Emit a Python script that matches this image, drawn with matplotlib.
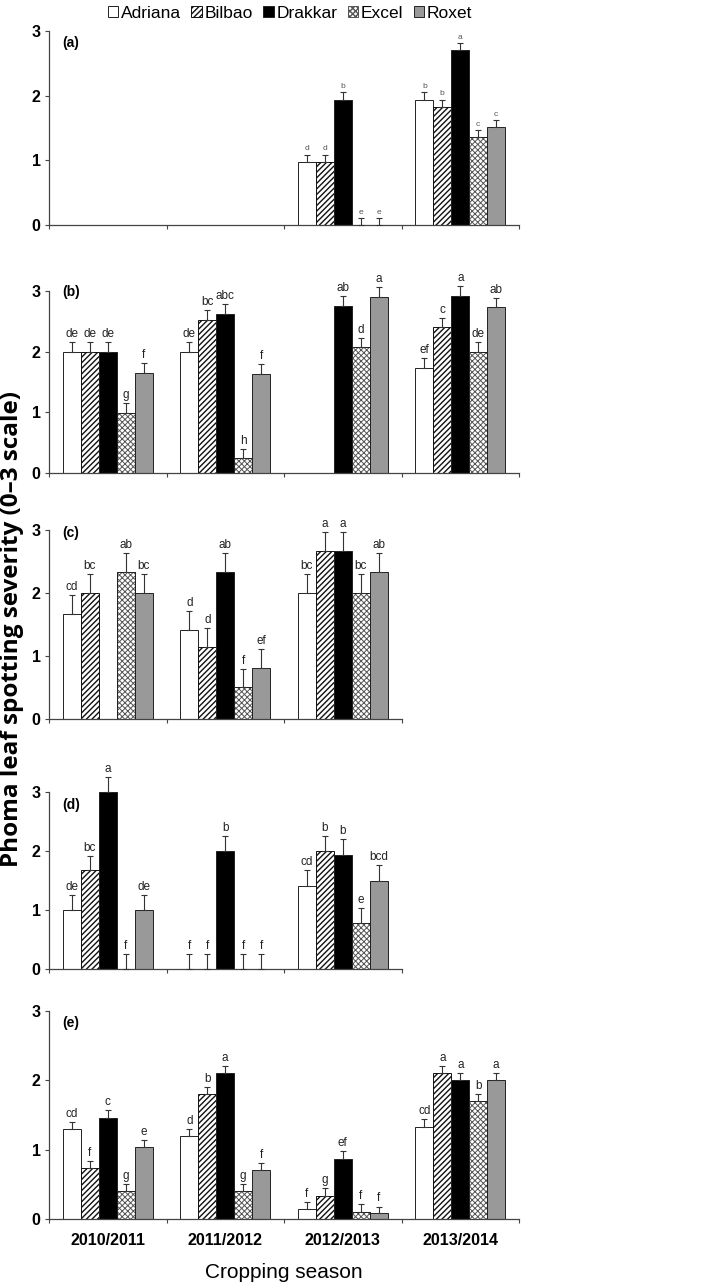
import numpy as np
import matplotlib
matplotlib.use("Agg")
import matplotlib.pyplot as plt
from matplotlib import font_manager

nan = np.nan

cultivars = ["Adriana", "Bilbao", "Drakkar", "Excel", "Roxet"]
seasons = ["2010/2011", "2011/2012", "2012/2013", "2013/2014"]
panel_labels = ["(a)", "(b)", "(c)", "(d)", "(e)"]

# rows = seasons, columns = cultivars
a_mean = [[nan] * 5, [nan] * 5,
          [0.97, 0.97, 1.94, 0.0, 0.0],
          [1.94, 1.83, 2.71, 1.36, 1.52]]
a_se = [[nan] * 5, [nan] * 5,
        [0.12, 0.12, 0.11, 0.11, 0.11],
        [0.11, 0.11, 0.11, 0.11, 0.11]]
a_letters = [[""] * 5, [""] * 5,
             ["d", "d", "b", "e", "e"],
             ["b", "b", "a", "c", "c"]]

b_mean = [[2.0, 2.0, 2.0, 0.99, 1.65],
          [2.0, 2.53, 2.62, 0.24, 1.63],
          [nan, nan, 2.76, 2.07, 2.90],
          [1.73, 2.40, 2.92, 2.0, 2.73]]
b_se = [[0.16, 0.16, 0.16, 0.16, 0.16],
        [0.16, 0.16, 0.16, 0.15, 0.16],
        [nan, nan, 0.16, 0.16, 0.16],
        [0.16, 0.16, 0.16, 0.16, 0.16]]
b_letters = [["de", "de", "de", "g", "f"],
             ["de", "bc", "abc", "h", "f"],
             ["", "", "ab", "d", "a"],
             ["ef", "c", "a", "de", "ab"]]

c_mean = [[1.67, 2.0, nan, 2.34, 2.0],
          [1.41, 1.14, 2.33, 0.51, 0.81],
          [2.0, 2.67, 2.67, 2.0, 2.34]]
c_se = [[0.30, 0.30, nan, 0.30, 0.30],
        [0.30, 0.30, 0.30, 0.29, 0.30],
        [0.30, 0.30, 0.30, 0.30, 0.30]]
c_letters = [["cd", "bc", "", "ab", "bc"],
             ["d", "d", "ab", "f", "ef"],
             ["bc", "a", "a", "bc", "ab"]]

d_mean = [[1.0, 1.67, 3.0, 0.0, 1.0],
          [0.0, 0.0, 2.0, 0.0, 0.0],
          [1.41, 2.0, 1.93, 0.78, 1.5]]
d_se = [[0.26, 0.25, 0.25, 0.26, 0.26],
        [0.26, 0.26, 0.26, 0.26, 0.26],
        [0.26, 0.26, 0.27, 0.26, 0.26]]
d_letters = [["de", "bc", "a", "f", "de"],
             ["f", "f", "b", "f", "f"],
             ["cd", "b", "b", "e", "bcd"]]

e_mean = [[1.30, 0.74, 1.46, 0.40, 1.04],
          [1.20, 1.80, 2.10, 0.40, 0.71],
          [0.14, 0.33, 0.87, 0.10, 0.08],
          [1.33, 2.10, 2.0, 1.70, 2.0]]
e_se = [[0.10, 0.10, 0.11, 0.11, 0.10],
        [0.10, 0.10, 0.10, 0.11, 0.10],
        [0.10, 0.11, 0.11, 0.11, 0.10],
        [0.11, 0.10, 0.10, 0.10, 0.10]]
e_letters = [["cd", "f", "c", "g", "e"],
             ["d", "b", "a", "g", "f"],
             ["f", "g", "ef", "f", "f"],
             ["cd", "a", "a", "b", "a"]]

panels = [(a_mean, a_se, a_letters), (b_mean, b_se, b_letters),
          (c_mean, c_se, c_letters), (d_mean, d_se, d_letters),
          (e_mean, e_se, e_letters)]

# ---- styling / layout ----
avail = {f.name for f in font_manager.fontManager.ttflist}
narrow = ["Liberation Sans Narrow", "Liberation Sans", "DejaVu Sans"]
narrow = [f for f in narrow if f in avail] or ["DejaVu Sans"]
regular = ["Liberation Sans", "DejaVu Sans"]
plt.rcParams["font.family"] = regular

styles = [dict(color="white", hatch=None, edgecolor="#222222", hlw=0.7),
          dict(color="white", hatch="//////", edgecolor="#111111", hlw=1.0),
          dict(color="black", hatch=None, edgecolor="#222222", hlw=0.7),
          dict(color="white", hatch="xxxxxx", edgecolor="#555555", hlw=0.7),
          dict(color="#999999", hatch=None, edgecolor="#222222", hlw=0.7)]

W, H = 709, 1287
fig = plt.figure(figsize=(W / 100, H / 100), dpi=100)
# pixel geometry: (y of value 3, y of value 0, number of groups, label y value)
geom = [(31, 225, 4, 2.81), (291, 473, 4, 2.98), (530, 719, 3, 2.95),
        (792, 969, 3, 2.78), (1011, 1219, 4, 2.82)]
x_left = 49
group_px = 117.5
bw = 0.153

handles = None
for p, ((mean, se, letters), (yt, y0, ng, laby)) in enumerate(zip(panels, geom)):
    ax = fig.add_axes([x_left / W, 1 - y0 / H, ng * group_px / W, (y0 - yt) / H])
    mean = np.array(mean, dtype=float)
    se = np.array(se, dtype=float)
    small = (p == 0)
    bars_for_legend = []
    for k in range(5):
        xs = np.arange(mean.shape[0]) + (k - 2) * bw
        vals = mean[:, k]
        errs = se[:, k]
        ok = ~np.isnan(vals)
        st = styles[k]
        with plt.rc_context({"hatch.linewidth": st["hlw"]}):
            bc = ax.bar(xs[ok], vals[ok], width=bw, color=st["color"],
                        edgecolor=st["edgecolor"], hatch=st["hatch"],
                        linewidth=0.7, zorder=2, label=cultivars[k])
        if k == 3:
            ax.bar(xs[ok], vals[ok], width=bw, fill=False, edgecolor="#222222",
                   linewidth=0.7, zorder=2.1)
        bars_for_legend.append(bc)
        eb = ax.errorbar(xs[ok], vals[ok], yerr=[np.zeros(ok.sum()), errs[ok]],
                         fmt="none", ecolor="#333333", elinewidth=0.8,
                         capsize=2.5, capthick=0.8, zorder=3)
        for art in list(eb.lines[1]) + list(eb.lines[2]):
            art.set_clip_on(False)
        for i in np.where(ok)[0]:
            lab = letters[i][k]
            if lab:
                ax.annotate(lab, (xs[i], vals[i] + errs[i]), xytext=(0, 1.5),
                            textcoords="offset points", ha="center", va="bottom",
                            fontsize=6 if small else 8.5,
                            color="#555555" if small else "#222222",
                            annotation_clip=False)
    if p == 1:
        handles = bars_for_legend
    ax.set_xlim(-0.5, ng - 0.5)
    ax.set_ylim(0, 3)
    for s in ["top", "right"]:
        ax.spines[s].set_visible(False)
    for s in ["left", "bottom"]:
        ax.spines[s].set_color("#444444")
        ax.spines[s].set_linewidth(0.9)
    ax.set_yticks([0, 1, 2, 3])
    ax.set_yticklabels(["0", "1", "2", "3"], fontfamily=narrow,
                       fontweight="bold", fontsize=11.5)
    ax.set_xticks(np.arange(ng + 1) - 0.5)
    ax.set_xticklabels([])
    ax.tick_params(axis="both", direction="out", length=3, width=0.8,
                   color="#444444", pad=3)
    ax.text(-0.39, laby, panel_labels[p], fontfamily=narrow, fontweight="bold",
            fontsize=10, va="center", ha="left")
    ax.set_facecolor("none")
    if p == 4:
        for i, s in enumerate(seasons):
            ax.annotate(s, (i, 0), xycoords=("data", "axes fraction"),
                        xytext=(0, -10), textcoords="offset points",
                        ha="center", va="top", fontfamily=narrow,
                        fontweight="bold", fontsize=11.5)

fig.text(284 / W, 1 - 1272 / H, "Cropping season", ha="center", va="center",
         fontfamily=narrow, fontsize=15)

fig.text(12 / W, 1 - 629 / H, "Phoma leaf spotting severity (0–3 scale)",
         rotation=90, ha="center", va="center", fontweight="bold",
         fontsize=17.5, fontfamily=["Open Sans", "DejaVu Sans"])

fig.legend(handles=handles, labels=cultivars, loc="center",
           bbox_to_anchor=(290 / W, 1 - 13 / H), ncol=5, frameon=False,
           handlelength=0.6, handleheight=0.6, handletextpad=0.15,
           columnspacing=0.6, borderaxespad=0,
           prop=dict(family=narrow, size=12.5))

fig.savefig("out.png", dpi=100)
